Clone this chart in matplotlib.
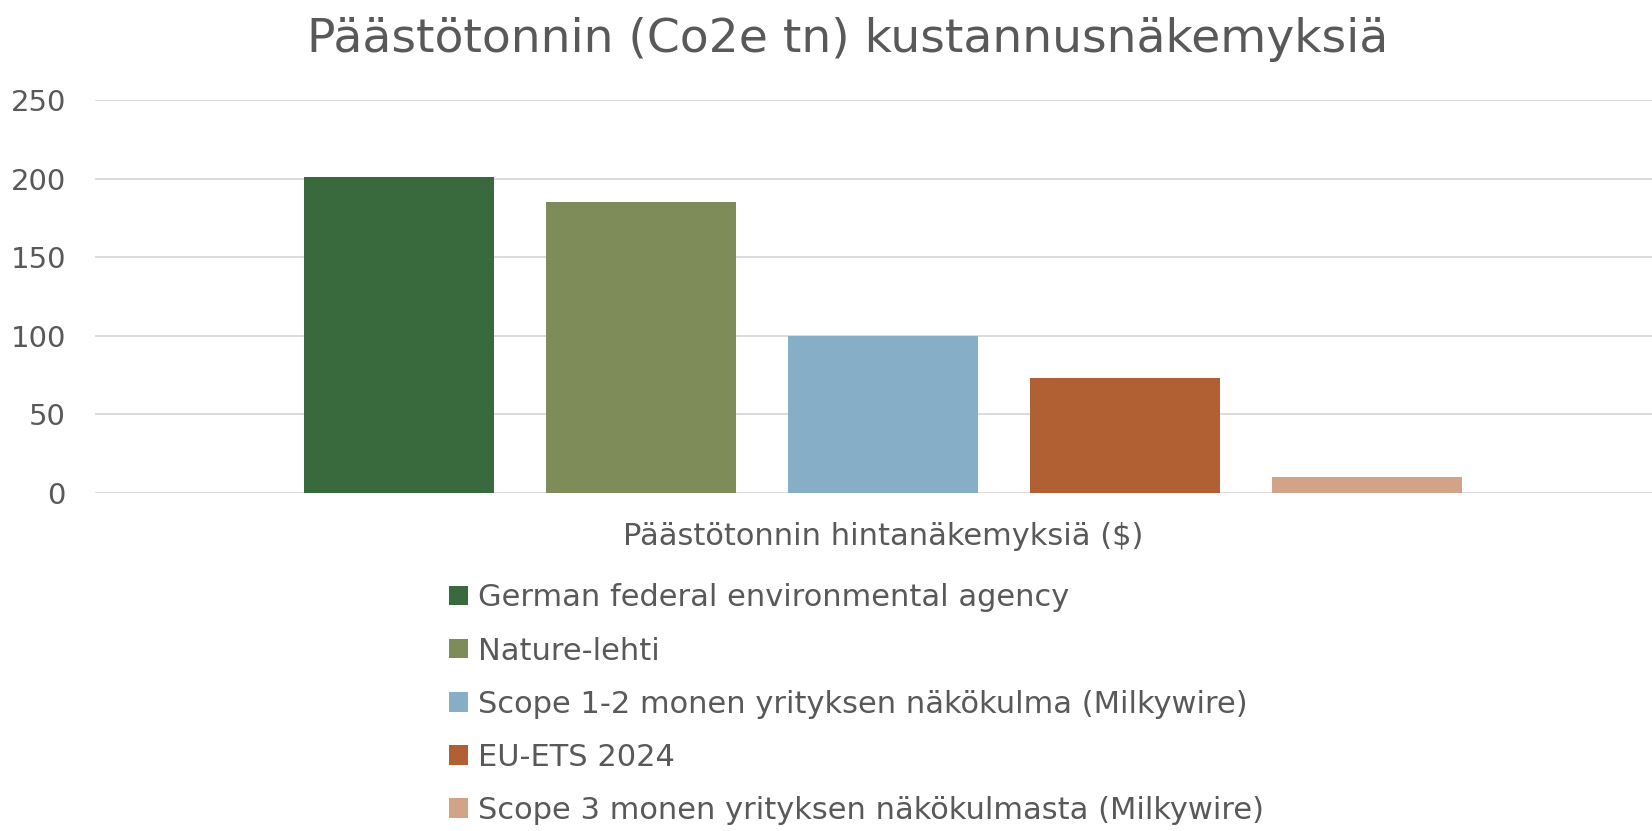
import numpy as np
import matplotlib.pyplot as plt

plt.rcParams['font.family'] = ['DejaVu Sans']

# hintanäkemykset ($ / tonni CO2e)
labels = [
    "German federal environmental agency",
    "Nature-lehti",
    "Scope 1-2 monen yrityksen näkökulma (Milkywire)",
    "EU-ETS 2024",
    "Scope 3 monen yrityksen näkökulmasta (Milkywire)",
]
values = [201, 185, 100, 73, 10]
colors = ["#386A3E", "#7E8C5A", "#86AEC7", "#B06033", "#D2A386"]
text_col = "#595959"

fig = plt.figure(figsize=(16.52, 8.31), dpi=100)
ax = fig.add_axes([0.0575, 0.4067, 0.9425, 0.473])

x = np.arange(len(values))
for i in range(len(values)):
    ax.bar(x[i], values[i], width=0.785, color=colors[i], label=labels[i], zorder=3)

ax.set_ylim(0, 250)
ax.set_xlim(-1.257, 5.176)
ax.set_yticks(np.arange(0, 251, 50))
ax.yaxis.grid(True, color="#D9D9D9", linewidth=1.3, zorder=0)
ax.set_xticks([])
for s in ax.spines.values():
    s.set_visible(False)
ax.tick_params(axis="y", length=0, pad=21, labelsize=21, labelcolor=text_col)

fig.text(0.5345, 0.354, "Päästötonnin hintanäkemyksiä ($)", ha="center", va="center",
         fontsize=22, color=text_col)

fig.text(0.513, 0.953, "Päästötonnin (Co2e tn) kustannusnäkemyksiä", ha="center", va="center",
         fontsize=34, color=text_col)

fig.legend(loc="upper left", bbox_to_anchor=(0.272, 0.298), frameon=False, ncol=1,
           fontsize=22, labelcolor=text_col, handlelength=0.6, handleheight=0.6,
           handletextpad=0.35, labelspacing=0.79, borderaxespad=0, borderpad=0)

plt.savefig("out.png", dpi=100)
